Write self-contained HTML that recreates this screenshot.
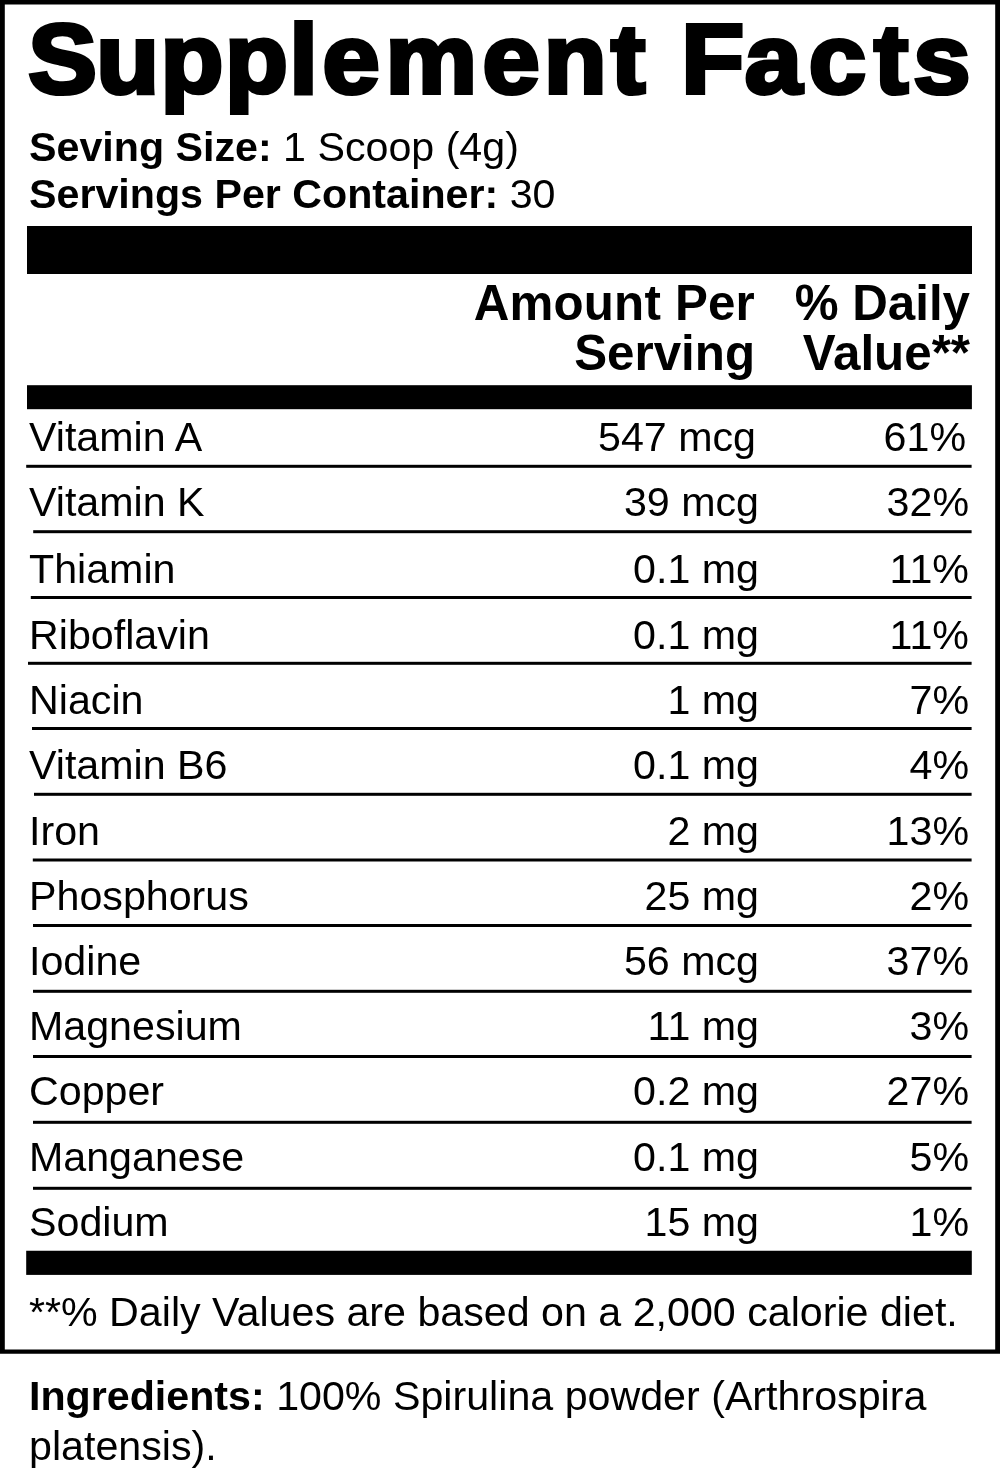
<!DOCTYPE html>
<html lang="en">
<head>
<meta charset="utf-8">
<title>Supplement Facts</title>
<style>
html,body{margin:0;padding:0;background:#fff;}
body{width:1000px;height:1473px;position:relative;overflow:hidden;font-family:"Liberation Sans",Arial,Helvetica,sans-serif;color:#000;}
.t{position:absolute;white-space:nowrap;line-height:1;margin:0;padding:0;}
.b{font-weight:bold;}
.ttl,.shp{position:absolute;left:0;top:0;overflow:visible;}
.r{text-align:right;}
</style>
</head>
<body>
<svg class="shp" width="1000" height="1473" viewBox="0 0 1000 1473" fill="#000"><path fill-rule="evenodd" d="M0 0H1000V1353.8H0Z M4.8 4.5V1349.6H995.2V4.5Z"/><rect x="27" y="226" width="945" height="48"/><rect x="27" y="385.2" width="944.9" height="24"/><rect x="26.2" y="1250.75" width="945.6" height="24.15"/><rect x="26.2" y="464.8" width="945.4" height="3"/><rect x="33.2" y="530.2" width="938.4" height="3"/><rect x="30.8" y="596" width="940.8" height="3"/><rect x="28" y="661.8" width="943.6" height="3"/><rect x="32" y="727" width="939.6" height="3"/><rect x="34" y="792.8" width="937.6" height="3"/><rect x="32.8" y="858.5" width="938.8" height="3"/><rect x="33" y="924" width="938.6" height="3"/><rect x="33" y="989.8" width="938.6" height="3"/><rect x="33" y="1055" width="938.6" height="3"/><rect x="33" y="1120.8" width="938.6" height="3"/><rect x="33" y="1186.8" width="938.6" height="3"/></svg>
<svg class="ttl" width="1000" height="130" viewBox="0 0 1000 130"><text transform="scale(1.05,1)" x="26.8 91.6 152.8 214.2 275.6 307.1 367.2 459.5 517.8 581.8 614.4 648.7 709.2 770.3 832.4 869.8" y="93" font-family="'Liberation Sans',Arial,Helvetica,sans-serif" font-weight="bold" font-size="98" fill="#000" stroke="#000" stroke-width="4.2" stroke-linejoin="miter">Supplement Facts</text></svg>
<div class="t " style="left:29px;top:127px;font-size:41.2px;"><b>Seving Size:</b> 1 Scoop (4g)</div>
<div class="t " style="left:29px;top:174px;font-size:41.2px;"><b>Servings Per Container:</b> 30</div>
<div class="t r b" style="right:245px;top:278px;font-size:49.3px;letter-spacing:0.2px;">Amount Per</div>
<div class="t r b" style="right:245px;top:328px;font-size:49.3px;">Serving</div>
<div class="t r b" style="right:30px;top:278px;font-size:49.3px;">% Daily</div>
<div class="t r b" style="right:30px;top:328px;font-size:49.3px;">Value**</div>
<div class="t " style="left:29px;top:417px;font-size:41.2px;">Vitamin A</div>
<div class="t r " style="right:244px;top:417px;font-size:41.2px;">547 mcg</div>
<div class="t r " style="right:34px;top:417px;font-size:41.2px;">61%</div>
<div class="t " style="left:29px;top:482px;font-size:41.2px;">Vitamin K</div>
<div class="t r " style="right:241px;top:482px;font-size:41.2px;">39 mcg</div>
<div class="t r " style="right:31px;top:482px;font-size:41.2px;">32%</div>
<div class="t " style="left:29px;top:549px;font-size:41.2px;">Thiamin</div>
<div class="t r " style="right:241px;top:549px;font-size:41.2px;">0.1 mg</div>
<div class="t r " style="right:31px;top:549px;font-size:41.2px;">11%</div>
<div class="t " style="left:29px;top:615px;font-size:41.2px;">Riboflavin</div>
<div class="t r " style="right:241px;top:615px;font-size:41.2px;">0.1 mg</div>
<div class="t r " style="right:31px;top:615px;font-size:41.2px;">11%</div>
<div class="t " style="left:29px;top:680px;font-size:41.2px;">Niacin</div>
<div class="t r " style="right:241px;top:680px;font-size:41.2px;">1 mg</div>
<div class="t r " style="right:31px;top:680px;font-size:41.2px;">7%</div>
<div class="t " style="left:29px;top:745px;font-size:41.2px;">Vitamin B6</div>
<div class="t r " style="right:241px;top:745px;font-size:41.2px;">0.1 mg</div>
<div class="t r " style="right:31px;top:745px;font-size:41.2px;">4%</div>
<div class="t " style="left:29px;top:811px;font-size:41.2px;">Iron</div>
<div class="t r " style="right:241px;top:811px;font-size:41.2px;">2 mg</div>
<div class="t r " style="right:31px;top:811px;font-size:41.2px;">13%</div>
<div class="t " style="left:29px;top:876px;font-size:41.2px;">Phosphorus</div>
<div class="t r " style="right:241px;top:876px;font-size:41.2px;">25 mg</div>
<div class="t r " style="right:31px;top:876px;font-size:41.2px;">2%</div>
<div class="t " style="left:29px;top:941px;font-size:41.2px;">Iodine</div>
<div class="t r " style="right:241px;top:941px;font-size:41.2px;">56 mcg</div>
<div class="t r " style="right:31px;top:941px;font-size:41.2px;">37%</div>
<div class="t " style="left:29px;top:1006px;font-size:41.2px;">Magnesium</div>
<div class="t r " style="right:241px;top:1006px;font-size:41.2px;">11 mg</div>
<div class="t r " style="right:31px;top:1006px;font-size:41.2px;">3%</div>
<div class="t " style="left:29px;top:1071px;font-size:41.2px;">Copper</div>
<div class="t r " style="right:241px;top:1071px;font-size:41.2px;">0.2 mg</div>
<div class="t r " style="right:31px;top:1071px;font-size:41.2px;">27%</div>
<div class="t " style="left:29px;top:1137px;font-size:41.2px;">Manganese</div>
<div class="t r " style="right:241px;top:1137px;font-size:41.2px;">0.1 mg</div>
<div class="t r " style="right:31px;top:1137px;font-size:41.2px;">5%</div>
<div class="t " style="left:29px;top:1202px;font-size:41.2px;">Sodium</div>
<div class="t r " style="right:241px;top:1202px;font-size:41.2px;">15 mg</div>
<div class="t r " style="right:31px;top:1202px;font-size:41.2px;">1%</div>
<div class="t " style="left:29px;top:1292px;font-size:41.2px;">**% Daily Values are based on a 2,000 calorie diet.</div>
<div class="t " style="left:29px;top:1376px;font-size:41.2px;"><b>Ingredients:</b> 100% Spirulina powder (Arthrospira</div>
<div class="t " style="left:29px;top:1426px;font-size:41.2px;">platensis).</div>
</body>
</html>
